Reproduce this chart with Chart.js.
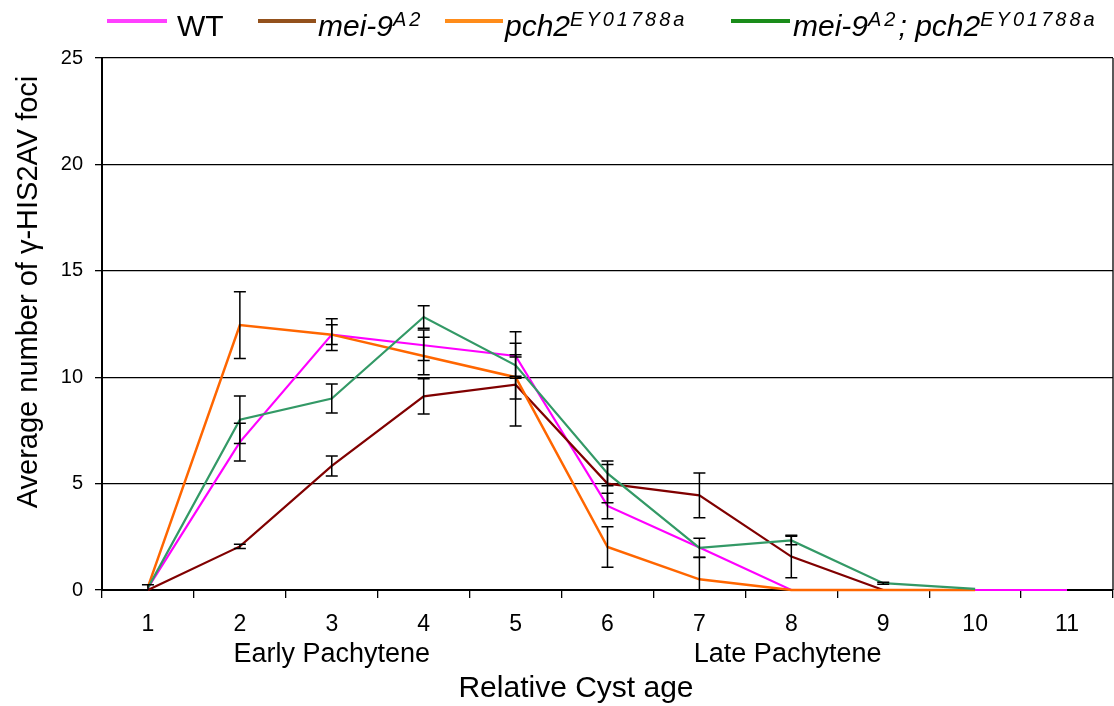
<!DOCTYPE html>
<html>
<head>
<meta charset="utf-8">
<script src="https://cdn.jsdelivr.net/npm/chart.js@4/dist/chart.umd.min.js"></script>
<style>
  html, body { margin: 0; padding: 0; background: #fff; }
  #wrap { position: relative; width: 1114px; height: 706px; overflow: hidden; }
  canvas { position: absolute; left: 0; top: 0; }
  .lg-line { position: absolute; height: 4px; top: 19px; }
  .lg-text { position: absolute; top: 11px; font-family: "Liberation Sans", Arial, sans-serif; font-size: 30px; line-height: 30px; color: #000; white-space: nowrap; }
  .lg-text i { font-style: italic; }
  .lg-text sup { font-size: 20px; position: relative; top: 1px; letter-spacing: 3px; vertical-align: super; line-height: 0; }
</style>
</head>
<body>
<div id="wrap">
  <canvas id="c" width="1114" height="706"></canvas>
  <div class="lg-line" style="left:107px;width:60px;background:#ff40ff"></div>
  <div class="lg-text" style="left:177px">WT</div>
  <div class="lg-line" style="left:258px;width:58px;background:#93511c"></div>
  <div class="lg-text" style="left:318px"><i>mei-9<sup>A2</sup></i></div>
  <div class="lg-line" style="left:445px;width:58px;background:#ff8c1a"></div>
  <div class="lg-text" style="left:505px"><i>pch2<sup>EY01788a</sup></i></div>
  <div class="lg-line" style="left:731px;width:59px;background:#1a8c1a"></div>
  <div class="lg-text" style="left:793px"><i>mei-9<sup>A2</sup>; pch2<sup>EY01788a</sup></i></div>
</div>
<script>
const categories = ['1','2','3','4','5','6','7','8','9','10','11'];
const yTicks = [0, 5, 10, 15, 20, 25];

const wtValues     = [0.1, 6.95, 12.0, 11.5, 11.0, 3.95, 2.0, 0, 0, 0, 0];
const wtErrors     = [0, 0.89, 0.75, 0.72, 0.05, 0.6, 0, 0, 0, 0, 0];

const mei9Values   = [0, 2.05, 5.83, 9.1, 9.65, 5.0, 4.45, 1.57, 0, null, null];
const mei9Errors   = [0.25, 0.1, 0.47, 0.83, 1.94, 0.9, 1.05, 1.0, 0, null, null];

const pch2Values   = [0.15, 12.45, 12.0, 11.0, 10.0, 2.02, 0.5, 0, 0, 0, null];
const pch2Errors   = [0, 1.57, 0.46, 0.88, 0.05, 0.95, 1.04, 0, 0, 0, null];

const doubleValues = [0.1, 8.0, 9.0, 12.83, 10.56, 5.48, 1.98, 2.33, 0.32, 0.05, null];
const doubleErrors = [0, 1.12, 0.68, 0.53, 1.58, 0.58, 0.45, 0.2, 0.05, 0, null];

const stageLabels = ['Early Pachytene', 'Late Pachytene'];
const stageAt = [2, 6.96];

const FONT = '"Liberation Sans", Arial, sans-serif';

const errorBars = {
  id: 'errorBars',
  afterDatasetsDraw(chart) {
    const ctx = chart.ctx, xs = chart.scales.x, ys = chart.scales.y, ca = chart.chartArea;
    ctx.save();
    ctx.beginPath();
    ctx.rect(ca.left - 10, ca.top - 10, ca.right - ca.left + 20, ca.bottom - ca.top + 10);
    ctx.clip();
    ctx.strokeStyle = '#000';
    ctx.lineWidth = 1.5;
    chart.data.datasets.forEach(ds => {
      ds.errors.forEach((e, j) => {
        const v = ds.data[j];
        if (v === null || e === null || !e) return;
        const x = xs.getPixelForValue(j);
        const yHi = ys.getPixelForValue(v + e);
        const yLo = ys.getPixelForValue(v - e);
        ctx.beginPath();
        ctx.moveTo(x, yHi); ctx.lineTo(x, yLo);
        ctx.moveTo(x - 6, yHi); ctx.lineTo(x + 6, yHi);
        ctx.moveTo(x - 6, yLo); ctx.lineTo(x + 6, yLo);
        ctx.stroke();
      });
    });
    ctx.restore();
  }
};

const extraText = {
  id: 'extraText',
  afterDraw(chart) {
    const ctx = chart.ctx, xs = chart.scales.x, ca = chart.chartArea;
    ctx.save();
    ctx.strokeStyle = '#000'; ctx.lineWidth = 1.3;
    ctx.beginPath(); ctx.moveTo(ca.right, ca.top); ctx.lineTo(ca.right, ca.bottom); ctx.stroke();
    ctx.fillStyle = '#000';
    ctx.textBaseline = 'alphabetic';
    ctx.textAlign = 'center';
    ctx.font = '27px ' + FONT;
    stageLabels.forEach((t, i) => ctx.fillText(t, xs.getPixelForValue(stageAt[i]), 662));
    ctx.font = '30px ' + FONT;
    ctx.fillText('Relative Cyst age', 576, 697);
    ctx.translate(37, 292);
    ctx.rotate(-Math.PI / 2);
    ctx.font = '29px ' + FONT;
    ctx.fillText('Average number of \u03B3-HIS2AV foci', 0, 0);
    ctx.restore();
  }
};

function mk(label, data, errors, color, width, order) {
  return { label, data, errors, borderColor: color, backgroundColor: color, borderWidth: width,
           pointRadius: 0, pointHoverRadius: 0, tension: 0, spanGaps: false, order, clip: 4 };
}

new Chart(document.getElementById('c'), {
  type: 'line',
  data: {
    labels: categories,
    datasets: [
      mk('WT', wtValues, wtErrors, '#ff00ff', 2.2, 3),
      mk('mei-9 A2', mei9Values, mei9Errors, '#800000', 2.2, 2),
      mk('pch2 EY01788a', pch2Values, pch2Errors, '#ff6600', 2.5, 1),
      mk('mei-9 A2; pch2 EY01788a', doubleValues, doubleErrors, '#339966', 2.2, 0)
    ]
  },
  options: {
    responsive: false,
    animation: false,
    layout: { padding: { left: 0, right: 1, top: 58, bottom: 0 } },
    plugins: { legend: { display: false }, tooltip: { enabled: false }, title: { display: false } },
    scales: {
      x: {
        type: 'category',
        offset: true,
        afterFit(s) { s.height = 116; },
        grid: { offset: true, drawOnChartArea: false, drawTicks: true, tickLength: 8, color: '#000', lineWidth: 1.3 },
        border: { display: true, color: '#000', width: 2 },
        ticks: { color: '#000', font: { family: FONT, size: 23 }, padding: 13, maxRotation: 0, autoSkip: false }
      },
      y: {
        min: 0, max: 25,
        afterFit(s) { s.width = 102; },
        afterBuildTicks(s) { s.ticks = yTicks.map(v => ({ value: v })); },
        grid: { color: '#000', lineWidth: 1.3, tickLength: 7, tickColor: '#000', drawTicks: true },
        border: { display: true, color: '#000', width: 2 },
        ticks: { color: '#000', font: { family: FONT, size: 20 }, padding: 12 }
      }
    }
  },
  plugins: [errorBars, extraText]
});
</script>
</body>
</html>
